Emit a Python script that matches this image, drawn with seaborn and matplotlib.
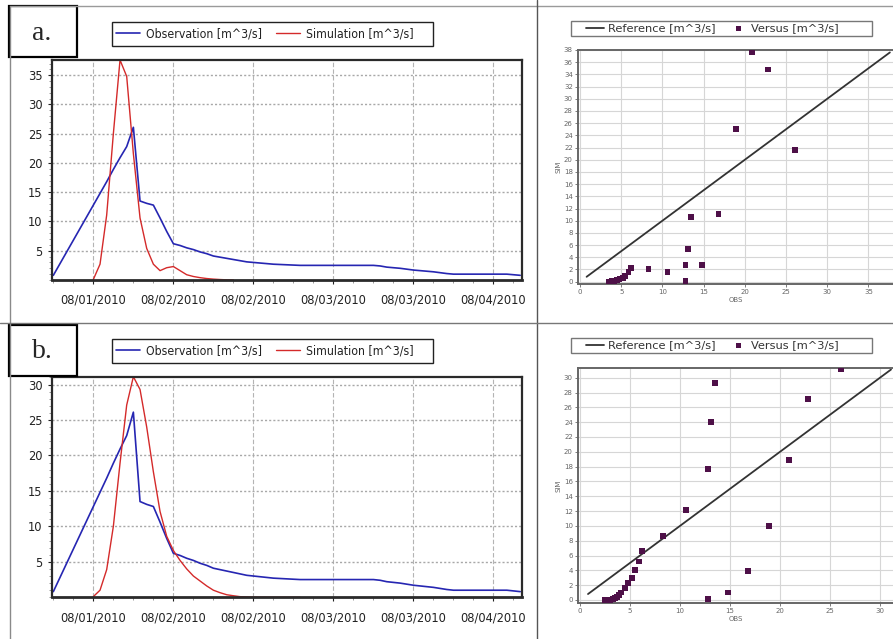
import numpy as np
import pandas as pd
import matplotlib.pyplot as plt
import seaborn as sns
from matplotlib.lines import Line2D
from matplotlib.patches import Rectangle
from matplotlib.font_manager import FontProperties
from matplotlib.ticker import MultipleLocator, FixedLocator

# ── data (one value per time step) ───────────────────────────
obs = [0.8, 2.8, 4.8, 6.8, 8.8, 10.8, 12.8, 14.8, 16.8, 18.9,
       20.9, 22.8, 26.1, 13.5, 13.1, 12.8, 10.6, 8.3, 6.2, 5.9,
       5.5, 5.2, 4.8, 4.5, 4.1, 3.9, 3.7, 3.5, 3.3, 3.1,
       3.0, 2.9, 2.8, 2.7, 2.65, 2.6, 2.55, 2.5, 2.5, 2.5,
       2.5, 2.5, 2.5, 2.5, 2.5, 2.5, 2.5, 2.5, 2.5, 2.4,
       2.2, 2.1, 2.0, 1.85, 1.7, 1.6, 1.5, 1.4, 1.25, 1.1,
       1.0, 1.0, 1.0, 1.0, 1.0, 1.0, 1.0, 1.0, 1.0, 0.9, 0.8]

sim_start = 6
sim_a = [0.1, 2.7, 11.1, 25.0, 37.6, 34.8, 21.6, 10.6, 5.4, 2.7,
         1.6, 2.1, 2.3, 1.6, 0.9, 0.6, 0.4, 0.25, 0.15, 0.08, 0.03, 0.0]
sim_b = [0.1, 1.0, 3.9, 10.0, 18.9, 27.1, 31.1, 29.3, 24.0, 17.7,
         12.1, 8.6, 6.6, 5.2, 4.0, 3.0, 2.3, 1.6, 1.0, 0.65,
         0.36, 0.22, 0.09, 0.05, 0.03, 0.02, 0.01, 0.0, 0.0, 0.0, 0.0, 0.0]

date_ticks = [6, 18, 30, 42, 54, 66]
date_labels = ['08/01/2010', '08/02/2010', '08/02/2010',
               '08/03/2010', '08/03/2010', '08/04/2010']

df = pd.DataFrame({'step': np.arange(len(obs)), 'obs': obs})
df['sim_a'] = pd.Series(sim_a, index=range(sim_start, sim_start + len(sim_a)))
df['sim_b'] = pd.Series(sim_b, index=range(sim_start, sim_start + len(sim_b)))

# ── style ─────────────────────────────────────────────────────
sns.set_style("white")
plt.rcParams['font.family'] = ['DejaVu Sans']

OBS_C = '#2626b2'
SIM_C = '#d42a2a'
PT_C = '#4e1048'
COND = dict(family='DejaVu Sans', stretch='condensed')

W, H = 893, 639
fig = plt.figure(figsize=(W / 100, H / 100), dpi=100)


def box(l, t, r, b):
    return [l / W, 1 - b / H, (r - l) / W, (b - t) / H]


def fig_line(x0, y0, x1, y1, color, lw):
    fig.add_artist(Line2D([x0 / W, x1 / W], [1 - y0 / H, 1 - y1 / H],
                          transform=fig.transFigure, color=color, lw=lw))


def fig_rect(l, t, r, b, edge, lw, z=-1):
    fig.add_artist(Rectangle((l / W, 1 - b / H), (r - l) / W, (b - t) / H,
                             transform=fig.transFigure, facecolor='white',
                             edgecolor=edge, lw=lw, zorder=z))


# ── table frame ───────────────────────────────────────────────
fig_line(9.5, 5.5, W, 5.5, '#9a9a9a', 1.0)
fig_line(9.5, 5.5, 9.5, H, '#8a8a8a', 1.0)
fig_line(537.3, 0, 537.3, H, '#555555', 1.0)
fig_line(0, 323, W, 323, '#777777', 1.0)


def draw_series(rect, sim_col, legend_top, tag, tag_top):
    ax = fig.add_axes(box(*rect))
    sns.lineplot(data=df, x='step', y='obs', ax=ax, color=OBS_C, lw=1.2,
                 estimator=None, label='Observation [m^3/s]')
    sns.lineplot(data=df, x='step', y=sim_col, ax=ax, color=SIM_C, lw=1.0,
                 estimator=None, label='Simulation [m^3/s]')
    top = max(df['obs'].max(), df[sim_col].max())
    ax.set_xlim(-0.2, 70.2)
    ax.set_ylim(0, top)
    ax.xaxis.set_major_locator(FixedLocator(date_ticks))
    ax.set_xticklabels(date_labels)
    ax.xaxis.set_minor_locator(MultipleLocator(3))
    ax.set_yticks(np.arange(5, top, 5))
    ax.yaxis.set_minor_locator(MultipleLocator(1))
    ax.tick_params(axis='both', which='major', colors='#222222',
                   length=3, width=0.8, direction='out', bottom=True, left=True)
    ax.tick_params(axis='both', which='minor', length=2.5, width=0.6,
                   color='#888888', bottom=True, left=True)
    ax.tick_params(axis='x', pad=7)
    ax.tick_params(axis='y', pad=4)
    for lab in ax.get_xticklabels() + ax.get_yticklabels():
        lab.set_fontproperties(FontProperties(size=9.2, **COND))
    ax.grid(True, axis='x', which='major', color='#b4b4b4', ls=(0, (4, 2)), lw=0.8)
    ax.grid(True, axis='y', which='major', color='#a8a8a8', ls=(0, (1.5, 1.5)), lw=1.0)
    ax.set_xlabel('')
    ax.set_ylabel('')
    for sp in ax.spines.values():
        sp.set_color('#2a2a2a')
        sp.set_linewidth(1.6)
    ax.spines['bottom'].set_linewidth(2.0)
    # legend: frame drawn separately, content placed like the reference
    fig_rect(112, legend_top, 433, legend_top + 24, '#222222', 1.0)
    leg = ax.legend(ncol=2, loc='center',
                    bbox_to_anchor=(265 / W, 1 - (legend_top + 12) / H),
                    bbox_transform=fig.transFigure, frameon=False,
                    prop=FontProperties(size=8.8, **COND),
                    handlelength=2.0, handletextpad=0.5, columnspacing=1.1,
                    borderpad=0.2, borderaxespad=0)
    for t in leg.get_texts():
        t.set_color('#222222')
    # panel tag
    fig_rect(8.6, tag_top, 76.6, tag_top + 51, 'black', 1.6, z=1)
    fig.text(42 / W, 1 - (tag_top + 27) / H, tag, ha='center', va='center',
             fontsize=20, family=['Liberation Serif', 'DejaVu Serif'], zorder=2)
    return ax


def draw_scatter(rect, sim_col, xlim, ylim, ymax_tick, legend_top):
    ax = fig.add_axes(box(*rect))
    pairs = df[['obs', sim_col]].dropna()
    lo = df['obs'].min()
    hi = max(pairs['obs'].max(), pairs[sim_col].max())
    sns.lineplot(x=[lo, hi], y=[lo, hi], ax=ax, color='#333333', lw=1.3,
                 label='Reference [m^3/s]')
    sns.scatterplot(x=pairs['obs'], y=pairs[sim_col], ax=ax, marker='s', s=17,
                    color=PT_C, edgecolor='none', label='Versus [m^3/s]', zorder=3)
    ax.set_xlim(*xlim)
    ax.set_ylim(*ylim)
    ax.xaxis.set_major_locator(MultipleLocator(5))
    ax.set_yticks(np.arange(0, ymax_tick + 1, 2))
    ax.tick_params(axis='both', labelsize=5, colors='#666666', length=2,
                   width=0.6, pad=1.5, bottom=True, left=True)
    ax.grid(True, color='#d6d6d6', lw=0.8)
    ax.set_xlabel('OBS', fontsize=5, color='#666666', labelpad=1.5)
    ax.set_ylabel('SIM', fontsize=5, color='#666666', labelpad=2)
    for sp in ax.spines.values():
        sp.set_color('#666666')
        sp.set_linewidth(1.4)
    fig_rect(571, legend_top, 872, legend_top + 15, '#777777', 1.0)
    leg = ax.legend(ncol=2, loc='center',
                    bbox_to_anchor=(712.5 / W, 1 - (legend_top + 7.5) / H),
                    bbox_transform=fig.transFigure, frameon=False,
                    handlelength=1.6, handletextpad=0.35, columnspacing=1.2,
                    borderpad=0.1, borderaxespad=0,
                    prop={'family': 'DejaVu Sans', 'size': 8.2})
    for t in leg.get_texts():
        t.set_color('#333333')
    return ax


draw_series((52, 60, 521.5, 280), 'sim_a', 22, 'a.', 6)
draw_series((52, 376.7, 521.5, 597.3), 'sim_b', 339, 'b.', 325)

draw_scatter((577.7, 50, 894, 284.3), 'sim_a', (-0.28, 38.1), (-0.43, 38.0), 38, 21)
draw_scatter((577.7, 367.7, 894, 603.3), 'sim_b', (-0.23, 31.4), (-0.45, 31.35), 30, 338)

plt.savefig('out.png', dpi=100, facecolor='white')
